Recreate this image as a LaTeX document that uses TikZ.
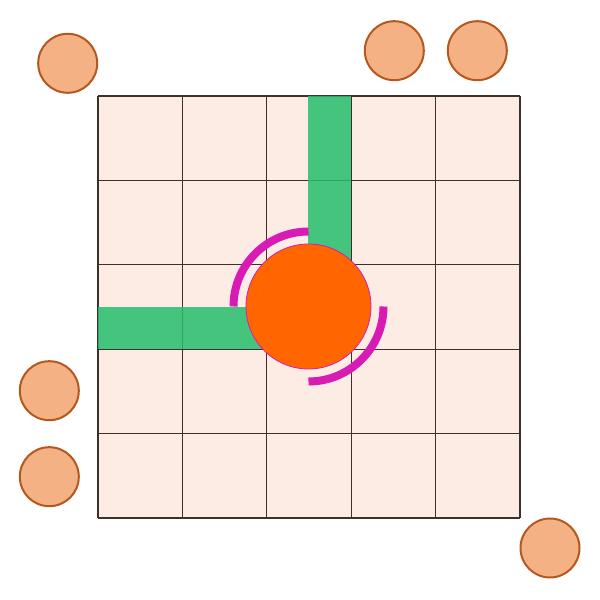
\documentclass[tikz,border=0pt]{standalone}
\usetikzlibrary{calc}
\definecolor{cellfill}{HTML}{FCECE3}
\definecolor{gridline}{HTML}{3E2F28}
\definecolor{barfill}{HTML}{26BD6C}
\definecolor{coin}{HTML}{F4B183}
\definecolor{coinedge}{HTML}{B5581E}
\definecolor{ball}{HTML}{FF6600}
\definecolor{ring}{HTML}{D81BB4}
\tikzset{
  coinnode/.style={circle, fill=coin, draw=coinedge, line width=2pt, minimum size=59pt, inner sep=0pt},
  ballnode/.style={circle, fill=ball, draw=ring, line width=0.8pt, minimum size=125pt, inner sep=0pt},
  gridstyle/.style={draw=gridline, line width=1.1pt},
  barstyle/.style={fill=barfill, fill opacity=0.85},
  ringarc/.style={draw=ring, line width=8pt}
}
\begin{document}
\begin{tikzpicture}[x=1pt,y=1pt]
\useasboundingbox (0,0) rectangle (600,600);
% board
\fill[cellfill] (98,82) rectangle (520,504);
% grid
\foreach \i in {0,...,5} {
  \draw[gridstyle] ({98+\i*84.4},82) -- ({98+\i*84.4},504);
  \draw[gridstyle] (98,{82+\i*84.4}) -- (520,{82+\i*84.4});
}
% green bars
\fill[barstyle] (308,504) rectangle (351,293.5);
\fill[barstyle] (98,251) rectangle (308.5,293);
% central ball
\node[ballnode] (ball) at (308.5,293.5) {};
\draw[ringarc] ($(ball.center)+(90:75)$) arc[start angle=90,end angle=180,radius=75];
\draw[ringarc] ($(ball.center)+(270:75)$) arc[start angle=270,end angle=360,radius=75];
% coins
\node[coinnode] (c1) at (67.7,536.7) {};
\node[coinnode] (c2) at (394.3,549.3) {};
\node[coinnode] (c3) at (477.3,549.3) {};
\node[coinnode] (c4) at (49.3,209.3) {};
\node[coinnode] (c5) at (49.3,123.3) {};
\node[coinnode] (c6) at (550,52) {};
\end{tikzpicture}
\end{document}
